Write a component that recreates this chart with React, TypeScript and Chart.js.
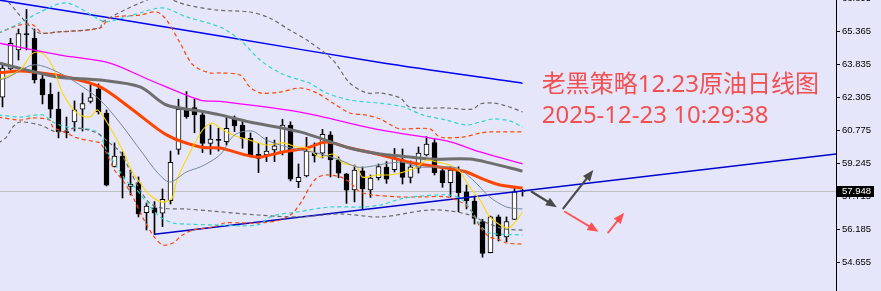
import React, { useEffect, useRef } from "react";
import { Chart, registerables } from "chart.js";

Chart.register(...registerables);

// ---------- candle data (daily crude oil) ----------
const OPEN = [62.32, 63.63, 64.52, 65.28, 65.06, 63.17, 62.47, 61.77, 60.71, 61.17, 61.77, 62.13, 62.70, 61.59, 59.09, 59.59, 58.18, 58.34, 56.96, 57.18, 56.94, 57.52, 59.90, 61.73, 61.84, 61.50, 60.18, 60.36, 60.26, 61.30, 61.03, 60.41, 59.67, 59.64, 59.87, 59.79, 61.03, 58.40, 58.66, 59.72, 59.72, 60.57, 59.41, 58.76, 58.01, 58.90, 58.01, 58.59, 59.08, 58.96, 59.41, 58.60, 59.03, 59.64, 60.21, 58.91, 58.35, 58.94, 57.93, 57.50, 56.54, 55.10, 56.76, 55.83, 56.65, 57.93];
const HIGH = [63.91, 65.06, 65.49, 66.40, 65.49, 63.35, 62.98, 62.56, 61.40, 62.15, 62.52, 62.89, 62.94, 61.73, 60.20, 59.78, 58.94, 58.62, 57.41, 57.47, 58.06, 59.82, 62.23, 62.58, 62.23, 61.59, 61.03, 60.88, 61.39, 61.45, 61.22, 60.66, 60.18, 60.46, 60.33, 61.30, 61.18, 59.22, 60.46, 60.20, 60.83, 60.72, 59.55, 58.78, 59.17, 59.08, 58.71, 59.22, 59.33, 59.94, 59.92, 59.36, 60.01, 60.49, 60.36, 59.08, 59.08, 59.09, 58.24, 57.73, 56.65, 56.80, 56.85, 56.76, 58.08, 58.04];
const LOW = [61.87, 63.59, 64.05, 64.52, 62.98, 62.01, 61.36, 60.43, 60.43, 60.75, 60.75, 62.05, 61.54, 58.20, 59.08, 57.64, 57.78, 56.76, 56.15, 55.95, 56.31, 57.36, 59.67, 61.34, 60.67, 59.75, 59.67, 59.82, 60.10, 60.72, 59.95, 59.55, 58.82, 59.33, 59.33, 59.64, 58.43, 58.12, 58.62, 59.31, 59.50, 58.62, 58.58, 57.39, 57.46, 57.12, 57.67, 58.48, 58.32, 58.85, 58.29, 58.34, 58.80, 59.59, 58.71, 58.14, 57.69, 57.00, 57.13, 56.43, 54.89, 55.09, 55.64, 55.61, 56.64, 57.73];
const CLOSE = [63.67, 64.83, 65.28, 65.21, 63.12, 62.43, 61.77, 60.71, 60.68, 61.73, 62.03, 62.31, 61.64, 58.24, 59.59, 58.57, 58.29, 56.90, 57.27, 56.94, 57.58, 59.30, 61.76, 61.42, 61.50, 60.18, 60.38, 60.31, 60.88, 60.99, 60.41, 59.56, 59.48, 59.82, 60.06, 61.03, 58.52, 58.60, 59.82, 59.59, 60.60, 59.41, 58.79, 58.00, 58.94, 58.06, 58.56, 59.10, 58.52, 59.50, 58.60, 59.09, 59.73, 60.15, 58.82, 58.35, 58.94, 57.89, 57.52, 56.69, 55.07, 56.76, 55.88, 56.54, 57.93, 57.948];

// ---------- axis ----------
const Y_TICKS = [54.655, 56.185, 57.715, 59.245, 60.775, 62.305, 63.835, 65.365, 66.895];
const LAST_PRICE = 57.948;
const Y_MIN = 53.32;
const Y_MAX = 66.837;
const X_MIN = -0.3125;
const X_MAX = 104.1875;

// ---------- indicator lines: [candle index, price] ----------
type P = [number, number];
const MA_BLUE: P[] = [[-0.5, 66.84], [27.2, 65.17], [47.2, 63.93], [65, 62.97]];
const MA_MAGENTA: P[] = [[-0.5, 64.84], [7.2, 64.28], [13.4, 63.91], [18.4, 63.12], [24.7, 62.19], [27.2, 62.13], [37.2, 61.63], [47.2, 60.8], [55.5, 60.29], [59.7, 59.78], [65, 59.22]];
const MA_GRAY: P[] = [[-0.5, 63.91], [3.0, 63.59], [6.8, 63.26], [12.2, 63.12], [17.2, 62.8], [20.5, 61.96], [24.7, 61.68], [27.2, 61.5], [30.9, 61.17], [37.2, 60.71], [43.4, 59.96], [47.2, 59.68], [49.7, 59.59], [53.4, 59.45], [58.4, 59.45], [60.9, 59.27], [65, 58.89]];
const MA_ORANGE: P[] = [[-0.5, 63.45], [2.2, 63.54], [3.8, 63.49], [8.0, 63.26], [12.2, 62.8], [16.3, 61.73], [20.5, 60.57], [24.7, 60.01], [27.2, 59.96], [31.8, 59.54], [35.0, 59.78], [38.0, 59.96], [40.5, 60.24], [43.4, 59.96], [46.3, 59.73], [49.7, 59.41], [51.3, 59.27], [55.5, 59.03], [58.0, 58.85], [59.7, 58.57], [62.2, 58.24], [65, 58.1]];
const MA_YELLOW: P[] = [[-0.5, 63.12], [2.2, 63.59], [3.8, 64.37], [5.0, 64.37], [6.3, 63.73], [7.5, 62.52], [9.3, 61.59], [10.9, 61.4], [11.9, 61.73], [13.4, 60.94], [15.0, 59.87], [16.3, 58.8], [17.2, 58.34], [18.4, 57.78], [20.0, 57.45], [21.2, 57.64], [21.8, 58.48], [23.4, 59.73], [25.0, 60.8], [26.2, 61.12], [27.2, 60.89], [28.8, 60.57], [30.9, 60.33], [33.0, 60.1], [35.0, 60.2], [36.8, 60.01], [38.0, 59.96], [39.7, 59.54], [41.3, 59.68], [42.5, 59.27], [44.3, 59.08], [45.0, 58.61], [46.8, 58.71], [48.4, 58.71], [49.7, 58.8], [51.8, 59.08], [53.0, 59.4], [54.3, 59.31], [55.9, 59.17], [57.2, 58.85], [58.4, 58.15], [59.7, 57.55], [60.9, 56.76], [62.2, 56.39], [63.2, 56.25], [64.0, 56.48], [65.0, 56.99]];
const MA_SLATE: P[] = [[-0.5, 63.12], [0.5, 63.21], [3.8, 63.82], [6.3, 63.59], [9.3, 62.98], [12.2, 62.19], [14.7, 61.12], [17.5, 59.73], [19.3, 58.85], [20.9, 58.38], [23.0, 58.85], [24.7, 59.08], [26.3, 59.4], [27.4, 59.73], [29.0, 60.57], [31.2, 60.75], [33.0, 60.33], [35.5, 60.01], [37.2, 59.87], [39.3, 59.73], [42.2, 59.4], [44.3, 59.08], [45.5, 59.08], [49.7, 59.31], [52.2, 59.08], [54.3, 59.08], [56.8, 59.03], [58.8, 58.48], [60.9, 57.69], [63.0, 57.22], [65.0, 57.13]];
const BAND_GRAY_UP: P[] = [[-0.5, 67.21], [0.5, 66.84], [4.3, 65.35], [6.8, 65.35], [12.2, 65.54], [12.5, 65.82], [17.2, 66.7], [19.7, 66.98], [23.0, 66.61], [26.8, 66.37], [30.9, 66.28], [33.4, 66.0], [35.9, 65.44], [38.4, 64.89], [41.3, 64.05], [43.4, 62.98], [45.5, 62.52], [47.2, 62.52], [49.7, 62.29], [50.9, 61.87], [55.5, 61.82], [58.8, 61.77], [59.7, 62.01], [61.3, 62.05], [63.0, 61.91], [65.0, 61.64]];
const BAND_CYAN_UP: P[] = [[-0.5, 65.3], [2.2, 65.77], [4.7, 66.28], [8.0, 66.7], [12.2, 65.91], [13.0, 65.82], [16.3, 66.14], [20.0, 66.47], [23.0, 66.05], [27.2, 65.58], [29.7, 64.98], [32.2, 64.05], [34.7, 63.45], [37.2, 63.12], [38.4, 62.98], [40.5, 62.52], [43.4, 62.19], [45.5, 62.1], [47.2, 62.05], [49.7, 61.91], [50.5, 61.82], [52.5, 61.5], [55.5, 61.26], [58.0, 61.03], [59.7, 61.17], [61.3, 61.31], [63.4, 61.22], [65.0, 60.94]];
const BAND_ORANGE_UP: P[] = [[-0.5, 65.3], [2.2, 65.68], [3.8, 65.68], [5.0, 65.3], [6.8, 65.35], [12.2, 65.54], [13.4, 66.0], [17.2, 66.14], [19.3, 66.28], [20.5, 65.91], [22.2, 64.84], [23.8, 63.82], [25.9, 63.45], [27.2, 63.45], [29.7, 63.35], [30.9, 62.8], [32.2, 62.52], [34.7, 62.56], [37.2, 62.75], [39.3, 62.52], [41.3, 62.05], [43.4, 61.59], [45.5, 61.49], [47.2, 61.31], [48.8, 60.98], [49.7, 60.85], [53.4, 60.85], [54.7, 60.47], [57.5, 60.47], [59.7, 60.66], [60.9, 60.71], [65.0, 60.71]];
const BAND_ORANGE_LO: P[] = [[-0.5, 61.4], [2.2, 61.26], [3.8, 61.36], [5.9, 61.26], [6.3, 60.94], [8.0, 60.66], [9.3, 60.43], [11.8, 60.24], [12.2, 60.2], [13.0, 59.73], [14.0, 58.94], [15.0, 58.48], [16.3, 57.69], [17.5, 56.76], [18.8, 55.92], [20.0, 55.46], [21.3, 55.55], [22.5, 55.92], [23.8, 56.15], [26.3, 56.29], [27.8, 56.48], [29.9, 56.48], [32.2, 56.48], [34.7, 56.62], [36.3, 56.94], [37.5, 57.55], [38.4, 58.15], [39.3, 58.57], [40.5, 58.71], [42.2, 58.62], [43.4, 58.38], [44.7, 57.92], [46.3, 57.78], [49.7, 57.69], [52.5, 57.69], [55.5, 57.69], [57.5, 57.41], [58.8, 56.94], [59.7, 56.29], [60.9, 55.83], [62.2, 55.69], [63.0, 55.55], [65.0, 55.5]];
const BAND_CYAN_LO: P[] = [[-0.5, 61.5], [2.2, 61.4], [5.0, 61.5], [6.3, 61.17], [8.0, 60.94], [11.3, 60.8], [12.2, 60.57], [13.0, 59.87], [14.3, 59.08], [15.7, 58.34], [16.3, 58.24], [18.0, 57.45], [19.7, 56.76], [21.3, 56.48], [23.0, 56.43], [26.3, 56.39], [31.9, 56.39], [33.7, 56.8], [36.8, 56.99], [40.9, 57.22], [44.7, 57.22], [47.2, 57.31], [49.7, 57.59], [52.2, 57.73], [55.9, 57.78], [57.5, 57.55], [58.8, 56.94], [60.0, 56.25], [60.9, 56.01], [65.0, 55.92]];
const BAND_GRAY_LO: P[] = [[-0.5, 60.19], [0.5, 60.47], [1.3, 60.94], [2.2, 61.17], [4.7, 61.03], [6.8, 60.71], [9.3, 60.89], [11.8, 60.66], [13.4, 60.19], [14.7, 59.78], [15.9, 58.94], [17.2, 58.01], [18.4, 57.41], [20.0, 57.17], [23.0, 57.13], [26.3, 57.03], [31.9, 56.85], [37.2, 56.76], [42.2, 56.9], [47.2, 56.76], [53.2, 57.08], [55.9, 57.04], [58.4, 56.85], [60.9, 56.43], [62.8, 56.2], [65.0, 56.15]];
const TRENDLINE: P[] = [[19, 55.954], [104.19, 59.68]];

// ---------- annotations (data coordinates) ----------
const TITLE = "老黑策略12.23原油日线图";
const STAMP = "2025-12-23 10:29:38";
const TITLE_POS: P = [67.4, 62.58];
const STAMP_POS: P = [67.4, 61.11];
const ARROWS: { from: P; to: P; color: string; width: number }[] = [
  { from: [66.15, 57.93], to: [69.3, 57.21], color: "#4a4a4a", width: 2.2 },
  { from: [70.1, 57.16], to: [73.85, 58.94], color: "#4a4a4a", width: 2.2 },
  { from: [70.3, 57.0], to: [74.5, 56.07], color: "#ff5252", width: 1.8 },
  { from: [75.7, 56.03], to: [77.7, 56.96], color: "#ff5252", width: 1.8 },
];

const BG = "#E6E6FA";

const toXY = (arr: P[]) => arr.map(([x, y]) => ({ x, y }));

function drawArrow(ctx: CanvasRenderingContext2D, x1: number, y1: number, x2: number, y2: number, color: string, w: number) {
  const a = Math.atan2(y2 - y1, x2 - x1);
  const head = 11;
  const hw = 4.5;
  ctx.save();
  ctx.strokeStyle = color;
  ctx.fillStyle = color;
  ctx.lineWidth = w;
  ctx.lineCap = "round";
  ctx.beginPath();
  ctx.moveTo(x1, y1);
  ctx.lineTo(x2 - Math.cos(a) * head * 0.7, y2 - Math.sin(a) * head * 0.7);
  ctx.stroke();
  const bx = x2 - Math.cos(a) * head;
  const by = y2 - Math.sin(a) * head;
  ctx.beginPath();
  ctx.moveTo(x2, y2);
  ctx.lineTo(bx + Math.sin(a) * hw, by - Math.cos(a) * hw);
  ctx.lineTo(bx - Math.sin(a) * hw, by + Math.cos(a) * hw);
  ctx.closePath();
  ctx.fill();
  ctx.restore();
}

const mtPlugin = {
  id: "mtDecor",
  beforeDraw(chart: any) {
    const ctx = chart.ctx as CanvasRenderingContext2D;
    ctx.save();
    ctx.fillStyle = BG;
    ctx.fillRect(0, 0, chart.width, chart.height);
    ctx.restore();
  },
  beforeDatasetsDraw(chart: any) {
    const ctx = chart.ctx as CanvasRenderingContext2D;
    const ys = chart.scales.y;
    const ca = chart.chartArea;
    const y = Math.round(ys.getPixelForValue(LAST_PRICE)) + 0.5;
    ctx.save();
    ctx.strokeStyle = "#C0C0C0";
    ctx.lineWidth = 1;
    ctx.beginPath();
    ctx.moveTo(ca.left, y);
    ctx.lineTo(ca.right, y);
    ctx.stroke();
    ctx.restore();
  },
  afterDraw(chart: any) {
    const ctx = chart.ctx as CanvasRenderingContext2D;
    const xs = chart.scales.x;
    const ys = chart.scales.y;
    const px = (p: P) => [xs.getPixelForValue(p[0]), ys.getPixelForValue(p[1])];
    ARROWS.forEach((a) => {
      const [x1, y1] = px(a.from);
      const [x2, y2] = px(a.to);
      drawArrow(ctx, x1, y1, x2, y2, a.color, a.width);
    });
    ctx.save();
    ctx.fillStyle = "#F25050";
    ctx.font = "24px 'Noto Sans', 'Noto Sans CJK SC'";
    ctx.textBaseline = "alphabetic";
    ctx.textAlign = "left";
    const [tx, ty] = px(TITLE_POS);
    ctx.fillText(TITLE, tx, ty);
    const [sx, sy] = px(STAMP_POS);
    ctx.fillText(STAMP, sx, sy);
    ctx.restore();
    const yp = ys.getPixelForValue(LAST_PRICE);
    const left = chart.chartArea.right;
    ctx.save();
    ctx.fillStyle = "#000";
    ctx.fillRect(left + 1, Math.round(yp) - 5, 37, 11);
    ctx.fillStyle = "#fff";
    ctx.font = "9.5px 'Liberation Sans', Arial, sans-serif";
    ctx.textBaseline = "middle";
    ctx.textAlign = "left";
    ctx.fillText(LAST_PRICE.toFixed(3), left + 6, Math.round(yp) + 0.5);
    ctx.restore();
  },
};

export default function App() {
  const ref = useRef<HTMLCanvasElement | null>(null);

  useEffect(() => {
    document.body.style.margin = "0";
    document.body.style.background = BG;
    const canvas = ref.current;
    if (!canvas) return;

    const idx = OPEN.map((_, i) => i);
    const bodies = idx.map((i) => ({ x: i, y: [OPEN[i], CLOSE[i]] }));
    const wicks = idx.map((i) => ({ x: i, y: [LOW[i], HIGH[i]] }));
    const bodyColors = idx.map((i) => (CLOSE[i] >= OPEN[i] ? "#FFFFFF" : "#000000"));

    const line = (data: P[], color: string, width: number, dash: number[] = []) => ({
      type: "line" as const,
      data: toXY(data),
      borderColor: color,
      borderWidth: width,
      borderDash: dash,
      pointRadius: 0,
      tension: 0.3,
      fill: false,
      order: 0,
    });

    const DASH = [4, 3];
    const chart = new Chart(canvas, {
      type: "bar",
      data: {
        datasets: [
          line(BAND_GRAY_UP, "#6A6A6A", 1.2, DASH),
          line(BAND_GRAY_LO, "#6A6A6A", 1.2, DASH),
          line(BAND_CYAN_UP, "#30D5CC", 1.2, DASH),
          line(BAND_CYAN_LO, "#30D5CC", 1.2, DASH),
          line(BAND_ORANGE_UP, "#FF4500", 1.2, DASH),
          line(BAND_ORANGE_LO, "#FF4500", 1.2, DASH),
          line(MA_BLUE, "#0000F0", 1.5),
          line(MA_MAGENTA, "#FF00FF", 1.3),
          line(MA_SLATE, "#778899", 1),
          line(MA_YELLOW, "#FFD700", 1.1),
          line(MA_GRAY, "#6E6E6E", 3),
          line(MA_ORANGE, "#FF4500", 3),
          { ...line(TRENDLINE, "#0000CD", 1.5), tension: 0 },
          {
            type: "bar" as const,
            data: bodies as any,
            backgroundColor: bodyColors,
            borderColor: "#000000",
            borderWidth: 1,
            borderSkipped: false,
            barThickness: 5,
            minBarLength: 1,
            grouped: false,
            order: 1,
          },
          {
            type: "bar" as const,
            data: wicks as any,
            backgroundColor: "#000000",
            borderWidth: 0,
            barThickness: 1,
            grouped: false,
            order: 2,
          },
        ] as any,
      },
      options: {
        animation: false,
        responsive: false,
        devicePixelRatio: 1,
        events: [],
        layout: { padding: 0 },
        plugins: { legend: { display: false }, tooltip: { enabled: false } },
        scales: {
          x: {
            type: "linear",
            display: false,
            min: X_MIN,
            max: X_MAX,
            offset: false,
            grid: { offset: false },
          },
          y: {
            type: "linear",
            position: "right",
            min: Y_MIN,
            max: Y_MAX,
            border: { display: true, color: "#000000", width: 1 },
            grid: { drawOnChartArea: false, drawTicks: true, tickLength: 4, color: "#000000" },
            ticks: {
              padding: 2,
              color: "#000000",
              autoSkip: false,
              font: { family: "'Liberation Sans', Arial, sans-serif", size: 9.5 },
              callback: (v: any) => Number(v).toFixed(3),
            },
            afterBuildTicks: (s: any) => {
              s.ticks = Y_TICKS.map((v) => ({ value: v }));
            },
            afterFit: (s: any) => {
              s.width = 45;
              s.paddingTop = 0;
              s.paddingBottom = 0;
            },
          },
        },
      } as any,
      plugins: [mtPlugin],
    });

    return () => chart.destroy();
  }, []);

  return (
    <div style={{ width: 881, height: 291, background: BG }}>
      <canvas ref={ref} width={881} height={291} style={{ display: "block" }} />
    </div>
  );
}
